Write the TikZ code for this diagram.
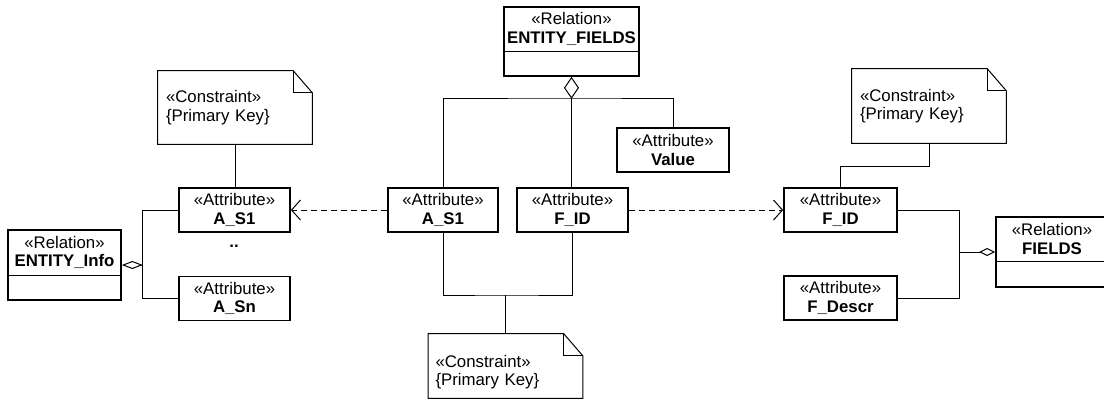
\documentclass[tikz,border=0pt]{standalone}
\usepackage{fontspec}
\setmainfont{Liberation Sans}
\usetikzlibrary{arrows.meta}
\newdimen\pxu \pxu=0.75pt

\begin{document}
\begin{tikzpicture}[x=0.75pt,y=-0.75pt,
  font=\fontsize{12.6}{13.8}\selectfont,
  box/.style={draw, line width=1.25pt, align=center, inner sep=0pt},
  attrbox/.style={box, minimum width=111\pxu, minimum height=44\pxu},
  relbox/.style={draw, line width=1.25pt, inner sep=0pt, minimum height=70\pxu},
  reltext/.style={align=center, inner sep=0pt},
  notebox/.style={inner sep=0pt, minimum width=154\pxu, minimum height=73\pxu, text width=138\pxu, align=left},
  notetext/.style={inner sep=0pt, text width=140\pxu, align=left},
  link/.style={line width=0.75pt},
  dep/.style={link, dash pattern=on 4.5pt off 3pt, -{Straight Barb[length=6.75pt,width=15pt]}},
]
\fill[white] (0,0) rectangle (1104,412);
\useasboundingbox (0,0) rectangle (1104,412);

% ---- ENTITY_Info and its attributes
\node[relbox, minimum width=113\pxu] (ei) at (64.5,265) {};
\node[reltext] (eiT) at (64.5,252.5) {«Relation»\\\textbf{ENTITY\_Info}};
\draw[link] (ei.west |- 0,275) -- (ei.east |- 0,275);
\node[attrbox] (aL) at (234.5,210) {«Attribute»\\\textbf{A\_S1}};
\node[attrbox] (aN) at (234.5,298.5) {«Attribute»\\\textbf{A\_Sn}};
\node[anchor=base, inner sep=0pt, font=\fontsize{12.6}{13.8}\bfseries] (dots) at (234,247) {..};
\node[notebox] (nL) at (235,107.5) {«Constraint»\\\{Primary Key\}};

% ---- ENTITY_FIELDS and its attributes
\node[relbox, minimum width=135\pxu, minimum height=69\pxu] (ef) at (571.5,41.5) {};
\node[reltext] (efT) at (571.5,29) {«Relation»\\\textbf{ENTITY\_FIELDS}};
\draw[link] (ef.west |- 0,51) -- (ef.east |- 0,51);
\node[attrbox, minimum width=110\pxu] (aC) at (443,210) {«Attribute»\\\textbf{A\_S1}};
\node[attrbox] (fC) at (572.5,210) {«Attribute»\\\textbf{F\_ID}};
\node[attrbox, minimum width=112\pxu] (val) at (673,150) {«Attribute»\\\textbf{Value}};
\node[notebox, minimum height=64\pxu] (nC) at (505.5,366) {};
\node[notetext] (nCT) at (505.5,372) {«Constraint»\\\{Primary Key\}};

% ---- FIELDS and its attributes
\node[relbox, minimum width=112\pxu] (fl) at (1052,252) {};
\node[reltext] (flT) at (1052,239) {«Relation»\\\textbf{FIELDS}};
\draw[link] (fl.west |- 0,261) -- (fl.east |- 0,261);
\node[attrbox, minimum width=113\pxu] (fR) at (840.5,210) {«Attribute»\\\textbf{F\_ID}};
\node[attrbox, minimum width=113\pxu] (fd) at (840.5,298) {«Attribute»\\\textbf{F\_Descr}};
\node[notebox, minimum height=74\pxu] (nR) at (929,106) {«Constraint»\\\{Primary Key\}};

% ---- note outlines with folded corner
\foreach \n in {nL,nR,nC} {
  \draw[link] (\n.north west) -- ([xshift=-14.25pt]\n.north east)
    -- ([yshift=-16.5pt]\n.north east) -- (\n.south east) -- (\n.south west) -- cycle;
  \draw[link] ([xshift=-14.25pt]\n.north east) |- ([yshift=-16.5pt]\n.north east);
}

% ---- dependencies between key attributes
\draw[dep] (aC.west) -- (aL.east);
\draw[dep] (fC.east) -- (fR.west);

% ---- left aggregation
\draw[link] (nL.south) -- (nL.south |- aL.north);
\coordinate (jL) at (142,265);
\draw[link, {Diamond[open,length=15.75pt,width=6pt]}-] (ei.east) -- (jL);
\draw[link] (aL.west) -| (jL);
\draw[link] (aN.west) -| (jL);

% ---- central aggregation
\coordinate (jT) at (571.5,98);
\draw[link, {Diamond[open,length=16.5pt,width=11.25pt]}-] (ef.south) -- (jT);
\draw[link] (aC.north) |- (jT) -| (val.north);
\draw[link] (jT) -- (jT |- fC.north);
\coordinate (jB) at (505.5,295);
\draw[link] (aC.south) |- (jB) -| (fC.south);
\draw[link] (jB) -- (nC.north);

% ---- right aggregation
\coordinate (kR) at (929,166);
\draw[link] (nR.south) -- (kR) -| (fR.north);
\coordinate (jR) at (959,252);
\draw[link] (fR.east) -| (jR);
\draw[link] (fd.east) -| (jR);
\draw[link, {Diamond[open,length=12pt,width=6pt]}-] (fl.west) -- (jR);
\end{tikzpicture}
\end{document}
